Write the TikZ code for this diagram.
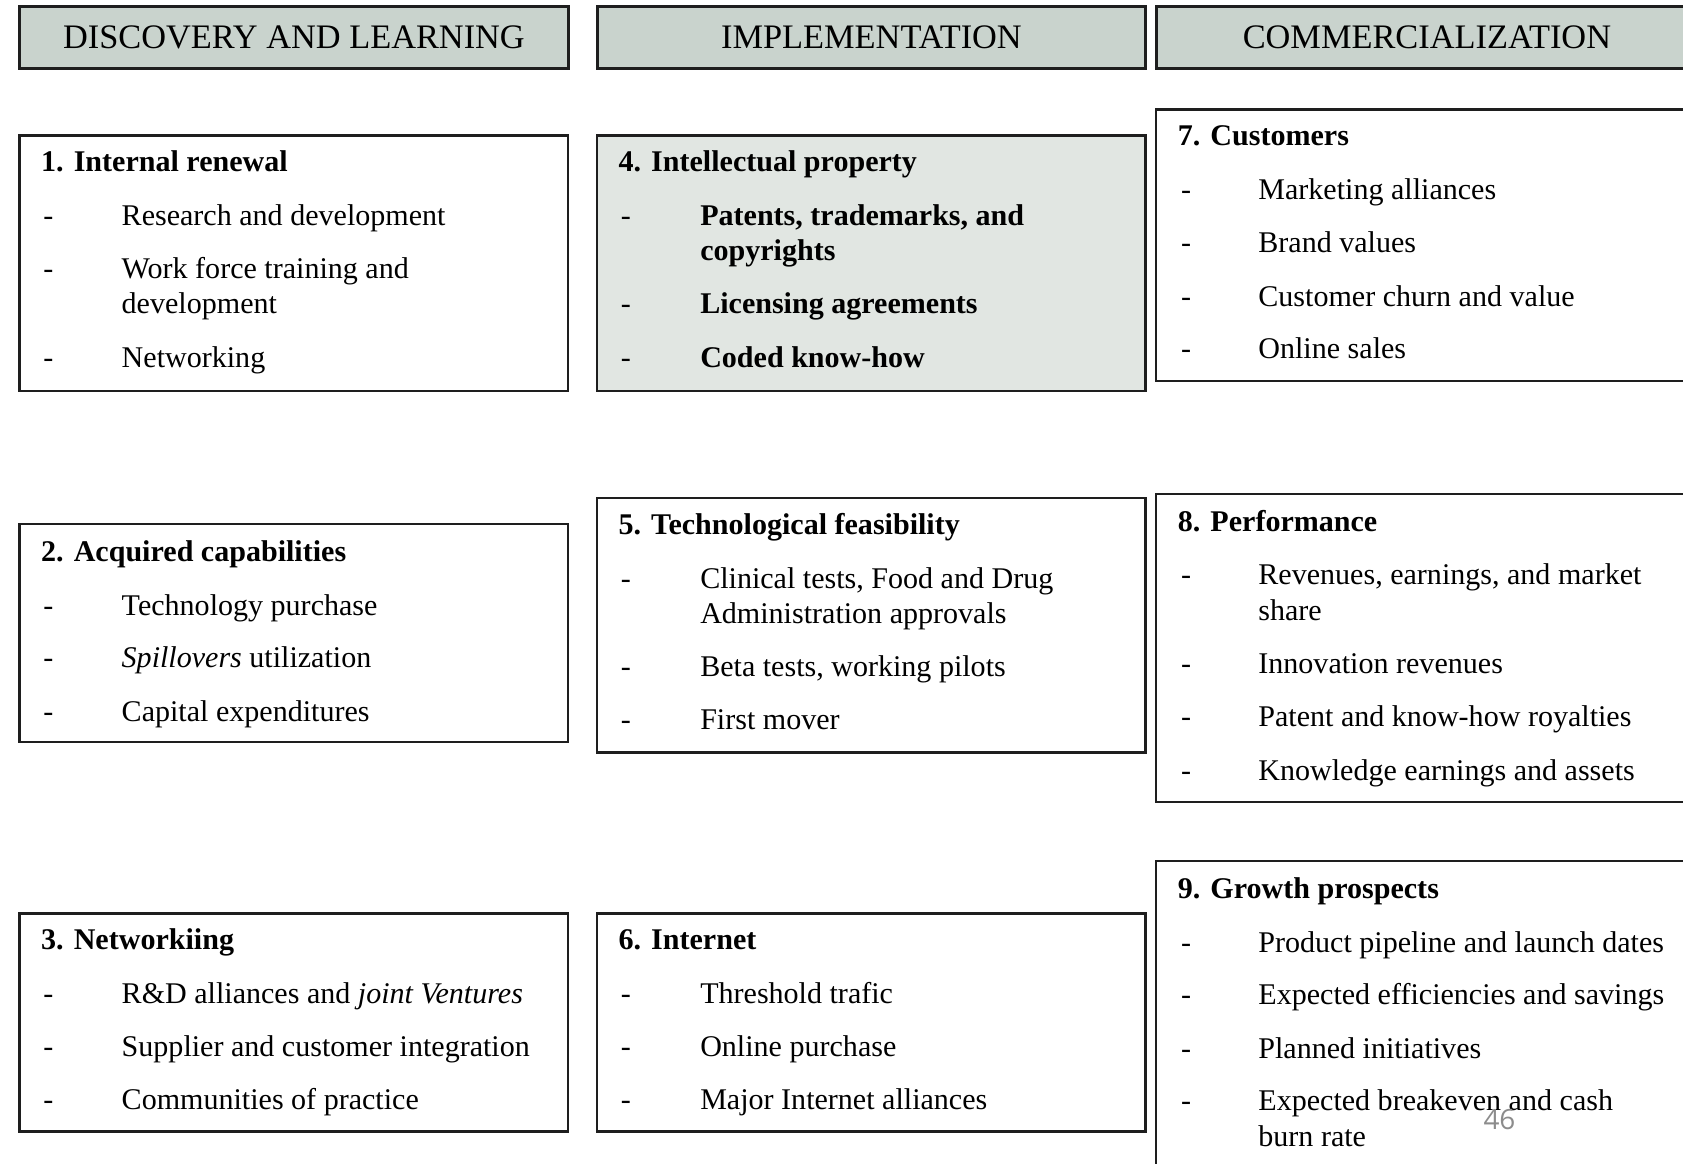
\documentclass[tikz,border=0pt]{standalone}
\usepackage{fontspec}
\setmainfont{Liberation Serif}
\newfontfamily\pagenumfont{Open Sans}
\definecolor{hdrfill}{RGB}{201,211,205}
\definecolor{ipfill}{RGB}{225,230,226}
\definecolor{edge}{RGB}{30,30,30}
\begin{document}
\begin{tikzpicture}[x=0.5pt,y=-0.5pt,
  hdr/.style={draw=edge,line width=1.4pt,fill=hdrfill,anchor=north west,
    minimum width=#1,minimum height=28.5pt,inner sep=0pt,
    font=\fontsize{16}{18}\selectfont},
  hdr/.default=255.5pt,
  panel/.style={draw=edge,line width=1.1pt,anchor=north west,inner sep=0pt},
  ttl/.style={anchor=base west,inner sep=0pt,font=\fontsize{14}{16.5}\selectfont\bfseries},
  itm/.style={anchor=base west,inner sep=0pt,font=\fontsize{14}{16.5}\selectfont},
  bitm/.style={itm,font=\fontsize{14}{16.5}\selectfont\bfseries}
]
\useasboundingbox (0,0) rectangle (1568,1084);
\clip (0,0) rectangle (1568,1084);
% headers
\node[hdr] (h1) at (17,5) {DISCOVERY AND LEARNING};
\node[hdr] (h2) at (555,5) {IMPLEMENTATION};
\node[hdr=252pt] (h3) at (1076,5) {COMMERCIALIZATION};
% panels
\node[panel,minimum width=255.5pt,minimum height=119pt] (b1) at (17,125) {};
\node[panel,minimum width=255.5pt,minimum height=101.5pt] (b2) at (17,487) {};
\node[panel,minimum width=255.5pt,minimum height=101.5pt] (b3) at (17,850) {};
\node[panel,fill=ipfill,minimum width=255.5pt,minimum height=119pt] (b4) at (555,125) {};
\node[panel,minimum width=255.5pt,minimum height=118.5pt] (b5) at (555,463) {};
\node[panel,minimum width=255.5pt,minimum height=101.5pt] (b6) at (555,850) {};
\node[panel,minimum width=260pt,minimum height=126.5pt] (b7) at (1076,101) {};
\node[panel,minimum width=260pt,minimum height=143.5pt] (b8) at (1076,459) {};
\node[panel,minimum width=260pt,minimum height=150pt] (b9) at (1076,801) {};
% panel 1
\node[ttl] (t1) at (38,160) {1. Internal renewal};
\node[itm] (d11) at (40,210) {-};
\node[itm] (i11) at (113,210) {Research and development};
\node[itm] (d12) at (40,259) {-};
\node[itm] (i12) at (113,259) {Work force training and};
\node[itm] (i12b) at (113,292) {development};
\node[itm] (d13) at (40,342) {-};
\node[itm] (i13) at (113,342) {Networking};
% panel 2
\node[ttl] (t2) at (38,523) {2. Acquired capabilities};
\node[itm] (d21) at (40,573) {-};
\node[itm] (i21) at (113,573) {Technology purchase};
\node[itm] (d22) at (40,622) {-};
\node[itm] (i22) at (113,622) {\textit{Spillovers} utilization};
\node[itm] (d23) at (40,672) {-};
\node[itm] (i23) at (113,672) {Capital expenditures};
% panel 3
\node[ttl] (t3) at (38,885) {3. Networkiing};
\node[itm] (d31) at (40,935) {-};
\node[itm] (i31) at (113,935) {R\&D alliances and \textit{joint Ventures}};
\node[itm] (d32) at (40,984) {-};
\node[itm] (i32) at (113,984) {Supplier and customer integration};
\node[itm] (d33) at (40,1034) {-};
\node[itm] (i33) at (113,1034) {Communities of practice};
% panel 4
\node[ttl] (t4) at (576,160) {4. Intellectual property};
\node[itm] (d41) at (578,210) {-};
\node[bitm] (i41) at (652,210) {Patents, trademarks, and};
\node[bitm] (i41b) at (652,243) {copyrights};
\node[itm] (d42) at (578,292) {-};
\node[bitm] (i42) at (652,292) {Licensing agreements};
\node[itm] (d43) at (578,342) {-};
\node[bitm] (i43) at (652,342) {Coded know-how};
% panel 5
\node[ttl] (t5) at (576,498) {5. Technological feasibility};
\node[itm] (d51) at (578,548) {-};
\node[itm] (i51) at (652,548) {Clinical tests, Food and Drug};
\node[itm] (i51b) at (652,581) {Administration approvals};
\node[itm] (d52) at (578,630) {-};
\node[itm] (i52) at (652,630) {Beta tests, working pilots};
\node[itm] (d53) at (578,680) {-};
\node[itm] (i53) at (652,680) {First mover};
% panel 6
\node[ttl] (t6) at (576,885) {6. Internet};
\node[itm] (d61) at (578,935) {-};
\node[itm] (i61) at (652,935) {Threshold trafic};
\node[itm] (d62) at (578,984) {-};
\node[itm] (i62) at (652,984) {Online purchase};
\node[itm] (d63) at (578,1034) {-};
\node[itm] (i63) at (652,1034) {Major Internet alliances};
% panel 7
\node[ttl] (t7) at (1097,136) {7. Customers};
\node[itm] (d71) at (1100,186) {-};
\node[itm] (i71) at (1172,186) {Marketing alliances};
\node[itm] (d72) at (1100,235) {-};
\node[itm] (i72) at (1172,235) {Brand values};
\node[itm] (d73) at (1100,286) {-};
\node[itm] (i73) at (1172,286) {Customer churn and value};
\node[itm] (d74) at (1100,334) {-};
\node[itm] (i74) at (1172,334) {Online sales};
% panel 8
\node[ttl] (t8) at (1097,495) {8. Performance};
\node[itm] (d81) at (1100,545) {-};
\node[itm] (i81) at (1172,545) {Revenues, earnings, and market};
\node[itm] (i81b) at (1172,578) {share};
\node[itm] (d82) at (1100,627) {-};
\node[itm] (i82) at (1172,627) {Innovation revenues};
\node[itm] (d83) at (1100,677) {-};
\node[itm] (i83) at (1172,677) {Patent and know-how royalties};
\node[itm] (d84) at (1100,727) {-};
\node[itm] (i84) at (1172,727) {Knowledge earnings and assets};
% panel 9
\node[ttl] (t9) at (1097,837) {9. Growth prospects};
\node[itm] (d91) at (1100,887) {-};
\node[itm] (i91) at (1172,887) {Product pipeline and launch dates};
\node[itm] (d92) at (1100,936) {-};
\node[itm] (i92) at (1172,936) {Expected efficiencies and savings};
\node[itm] (d93) at (1100,986) {-};
\node[itm] (i93) at (1172,986) {Planned initiatives};
\node[itm] (d94) at (1100,1035) {-};
\node[itm] (i94) at (1172,1035) {Expected breakeven and cash};
\node[itm] (i94b) at (1172,1068) {burn rate};
% page number
\node[inner sep=0pt,text=black!45,font=\pagenumfont\fontsize{13}{15}\selectfont] (pg) at (1397,1043) {46};
\end{tikzpicture}
\end{document}
